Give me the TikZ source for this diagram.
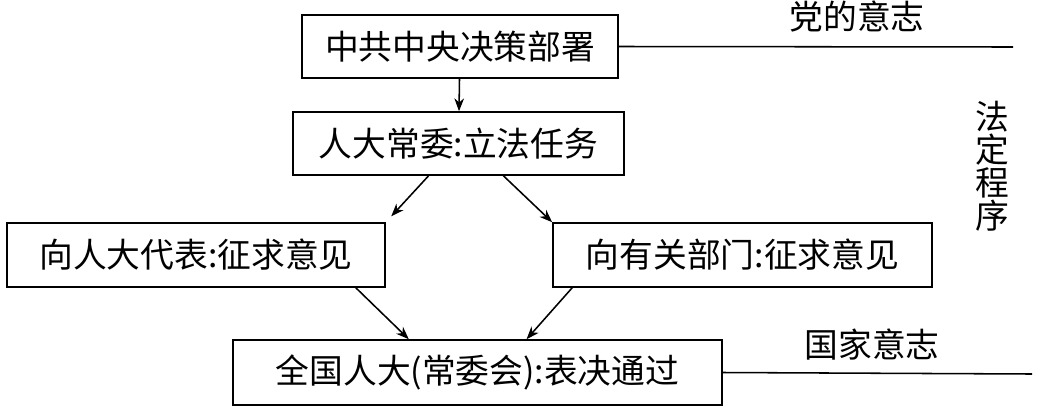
\documentclass[tikz,border=0pt]{standalone}
\usepackage{fontspec}
\newfontfamily\cjk{Noto Sans CJK SC}
\usetikzlibrary{positioning,arrows.meta,calc}
\tikzset{box/.style={rectangle,draw,inner sep=0pt,font=\cjk\fontsize{24}{28}\selectfont},
  lbl/.style={font=\cjk\fontsize{24}{28}\selectfont}}

\begin{document}
\begin{tikzpicture}[x=0.025cm,y=-0.025cm,line width=1.1pt]
\useasboundingbox (0,0) rectangle (1050,409);
\begin{scope}[>={Stealth[length=0.32cm,width=0.24cm,inset=0.1cm]}]
  \node (b1) at (460,46.5) [box,minimum width=7.9cm,minimum height=1.575cm]{中共中央决策部署};
  \node (b2) at (458.5,143.5) [box,minimum width=8.275cm,minimum height=1.575cm]{人大常委:立法任务};
  \node (b3) at (196,255) [box,minimum width=9.45cm,minimum height=1.6cm]{向人大代表:征求意见};
  \node (b4) at (742.5,255) [box,minimum width=9.475cm,minimum height=1.6cm]{向有关部门:征求意见};
  \node (b5) at (477.5,372.5) [box,minimum width=12.225cm,minimum height=1.625cm]{全国人大(常委会):表决通过};

  \node (dy) at (857,17) [lbl,inner sep=0pt]{党的意志};
  \node (gj) at (872,345) [lbl]{国家意志};
  \node (fd) at (992,166) [lbl,font=\cjk\fontsize{24}{23.5}\selectfont,align=center]{法\\定\\程\\序};

  \coordinate (e1) at (1013,47);
  \coordinate (e5) at (1032,374);

  \draw (b1.east) -- (e1);
  \draw (b5.east) -- (e5);

  \draw[->] (b1) -- (b2);
  \draw[->,shorten >=0.2cm] ($(b2.south west)!0.41!(b2.south east)$) -- (b3.north east);
  \draw[->] ($(b2.south west)!0.635!(b2.south east)$) -- (b4.north west);
  \draw[->] ($(b3.south east)+(-30,0)$) -- ($(b5.north west)!0.36!(b5.north east)$);
  \draw[->] ($(b4.south west)+(20,0)$) -- ($(b5.north west)!0.6!(b5.north east)$);

\end{scope}
\end{tikzpicture}
\end{document}
